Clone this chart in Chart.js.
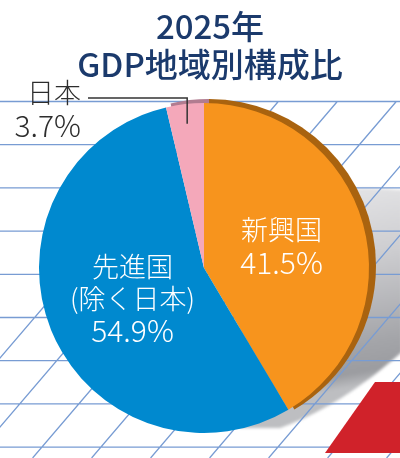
<!DOCTYPE html>
<html>
<head>
<meta charset="utf-8">
<script src="https://cdn.jsdelivr.net/npm/chart.js@4.4.1/dist/chart.umd.min.js"></script>
<style>
  html, body { margin: 0; padding: 0; background: #fff; }
  #wrap { width: 400px; height: 458px; }
</style>
</head>
<body>
<div id="wrap"><canvas id="chart" width="400" height="458"></canvas></div>
<script>
// data
const titleLines = ['2025年', 'GDP地域別構成比'];
const categories = ['新興国', '先進国(除く日本)', '日本'];
const labelLines = [['新興国'], ['先進国', '(除く日本)'], ['日本']];
const shares = [41.5, 54.9, 3.7];
const sliceColors = ['#f7941d', '#0089cf', '#f4a8ba'];
const rimColors = ['#a9630f', null, '#b17c90'];

const FONT = '"Noto Sans CJK JP", "Noto Sans", sans-serif';

// background: shadow, slanted grid, red block
const backdrop = {
    id: 'backdrop',
    beforeDraw(chart) {
        const ctx = chart.ctx;
        const w = chart.width, h = chart.height;
        ctx.save();
        ctx.fillStyle = '#fff';
        ctx.fillRect(0, 0, w, h);

        // grey shadow behind the pie
        ctx.filter = 'blur(1.5px)';
        let g = ctx.createLinearGradient(330, 192, 365, 385);
        g.addColorStop(0, '#e3e3e5');
        g.addColorStop(0.35, '#cdcdd0');
        g.addColorStop(0.8, '#a3a4a8');
        g.addColorStop(0.93, '#9b9ca0');
        g.addColorStop(1, '#bdbec1');
        ctx.fillStyle = g;
        ctx.beginPath();
        ctx.moveTo(240, 205);
        ctx.bezierCurveTo(290, 190, 350, 185, 402, 190);
        ctx.lineTo(402, 352);
        ctx.bezierCurveTo(370, 380, 330, 410, 280, 428);
        ctx.lineTo(240, 428);
        ctx.closePath();
        ctx.fill();
        ctx.filter = 'none';

        // grid
        ctx.strokeStyle = '#789cd3';
        ctx.lineWidth = 1.3;
        const top = 101.5, step = 43.2;
        ctx.beginPath();
        for (let y = top; y < h; y += step) {
            ctx.moveTo(0, y);
            ctx.lineTo(w, y);
        }
        const slope = 1.17;
        for (let xb = 42 - 59 * 2; xb < w + 400; xb += 59) {
            // xb is where the line meets y = 447
            const xTop = xb + (447 - top) / slope;
            const xBot = xb + (447 - h) / slope;
            ctx.moveTo(xBot, h);
            ctx.lineTo(xTop, top);
        }
        ctx.stroke();

        // red block bottom right
        ctx.fillStyle = '#d0222a';
        ctx.beginPath();
        ctx.moveTo(375, 382);
        ctx.lineTo(402, 382);
        ctx.lineTo(402, 453);
        ctx.lineTo(325, 453);
        ctx.closePath();
        ctx.fill();

        // title
        ctx.fillStyle = '#1b3a6c';
        ctx.font = '500 33px ' + FONT;
        ctx.textAlign = 'center';
        ctx.textBaseline = 'middle';
        ctx.fillText(titleLines[0], 210, 26);
        ctx.fillText(titleLines[1], 210, 64);
        ctx.restore();
    },
    beforeDatasetsDraw(chart) {
        // darker rim giving the slices some depth
        const ctx = chart.ctx;
        const arcs = chart.getDatasetMeta(0).data;
        ctx.save();
        arcs.forEach(function (a, i) {
            if (!rimColors[i]) return;
            const cx = a.x + 5, cy = a.y - 2;
            ctx.fillStyle = rimColors[i];
            ctx.beginPath();
            ctx.moveTo(cx, cy);
            ctx.arc(cx, cy, a.outerRadius + 2, a.startAngle, a.endAngle);
            ctx.closePath();
            ctx.fill();
        });
        ctx.restore();
    }
};

const sliceLabels = {
    id: 'sliceLabels',
    afterDatasetsDraw(chart) {
        const ctx = chart.ctx;
        const arcs = chart.getDatasetMeta(0).data;
        ctx.save();
        ctx.textAlign = 'center';
        ctx.textBaseline = 'middle';

        // labels inside the two big slices
        [0, 1].forEach(function (i) {
            const p = arcs[i].tooltipPosition();
            const lines = labelLines[i].concat([shares[i].toFixed(1) + '%']);
            const lh = 32;
            let y = p.y - (lines.length - 1) * lh / 2;
            ctx.fillStyle = '#fff';
            lines.forEach(function (t, k) {
                const isPct = k === lines.length - 1;
                ctx.font = (isPct ? '300 30px ' : '300 27px ') + FONT;
                ctx.fillText(t, p.x + (i === 1 ? 5 : -2), y);
                y += lh;
            });
        });

        // small slice: label outside with a leader line
        const a = arcs[2];
        const mid = (a.startAngle + a.endAngle) / 2;
        const r = a.outerRadius * 0.88;
        const ax = a.x + Math.cos(mid) * r;
        const ay = a.y + Math.sin(mid) * r;
        const elbowY = 98;
        ctx.strokeStyle = '#333';
        ctx.lineWidth = 1.5;
        ctx.beginPath();
        ctx.moveTo(ax, ay);
        ctx.lineTo(ax, elbowY);
        ctx.lineTo(88, elbowY);
        ctx.stroke();

        ctx.fillStyle = '#2d2d2d';
        ctx.textAlign = 'right';
        ctx.font = '300 27px ' + FONT;
        ctx.fillText(labelLines[2][0], 81, 93);
        ctx.font = '300 30px ' + FONT;
        ctx.fillText(shares[2].toFixed(1) + '%', 81, 126);
        ctx.restore();
    }
};

new Chart(document.getElementById('chart'), {
    type: 'pie',
    data: {
        labels: categories,
        datasets: [{
            data: shares,
            backgroundColor: sliceColors,
            borderWidth: 0
        }]
    },
    options: {
        responsive: false,
        devicePixelRatio: 1,
        animation: false,
        layout: { padding: { left: 39, right: 31, top: 103, bottom: 25 } },
        plugins: {
            legend: { display: false },
            tooltip: { enabled: false },
            title: { display: false }
        }
    },
    plugins: [backdrop, sliceLabels]
});
</script>
</body>
</html>
